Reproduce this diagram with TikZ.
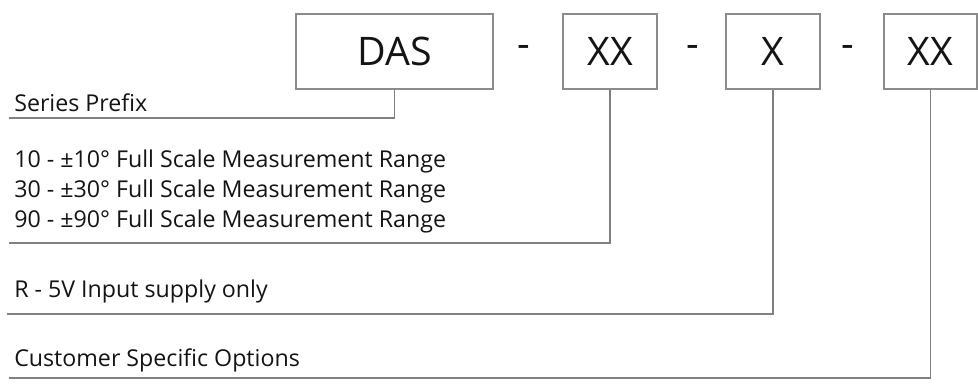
\documentclass[tikz,border=0pt]{standalone}
\usepackage{fontspec}
\setmainfont{Open Sans}
\definecolor{linegray}{RGB}{128,128,128}
\definecolor{boxgray}{RGB}{140,140,140}
\definecolor{txt}{RGB}{20,20,20}
\tikzset{
  codebox/.style={draw=boxgray, line width=0.8pt, inner sep=0pt, minimum height=75*0.75pt, font=\fontsize{29.5}{32}\selectfont, text=txt},
  sep/.style={font=\fontsize{29.5}{32}\selectfont, text=txt, inner sep=0pt},
  lbl/.style={anchor=base west, inner sep=0pt, font=\fontsize{17.4}{20}\selectfont, text=txt},
  conn/.style={draw=linegray, line width=1.2pt}
}
\begin{document}
\begin{tikzpicture}[x=0.75pt, y=-0.75pt]
\useasboundingbox (0,0) rectangle (978,383);
% code boxes
\node[codebox, minimum width=197*0.75pt] (das) at (394.5,51.5) {DAS};
\node[codebox, minimum width=94*0.75pt] (xxa) at (610,51.5) {XX};
\node[codebox, minimum width=94*0.75pt] (xb) at (773,51.5) {X};
\node[codebox, minimum width=93*0.75pt] (xxc) at (930.5,51.5) {XX};
% dashes
\node[sep] (d1) at (524,51.5) {-};
\node[sep] (d2) at (693,51.5) {-};
\node[sep] (d3) at (848,51.5) {-};
% labels
\node[lbl] (l1) at (14,111) {Series Prefix};
\node[lbl] (l2a) at (14,167) {10 - ±10° Full Scale Measurement Range};
\node[lbl] (l2b) at (14,197) {30 - ±30° Full Scale Measurement Range};
\node[lbl] (l2c) at (14,227) {90 - ±90° Full Scale Measurement Range};
\node[lbl] (l3) at (14,297) {R - 5V Input supply only};
\node[lbl] (l4) at (14,366) {Customer Specific Options};
% connector ends
\coordinate (e1) at (9,118);
\coordinate (e2) at (9,243);
\coordinate (e3) at (7,314);
\coordinate (e4) at (9,378);
\draw[conn] (das.south) |- (e1);
\draw[conn] (xxa.south) |- (e2);
\draw[conn] (xb.south) |- (e3);
\draw[conn] (xxc.south) |- (e4);
\end{tikzpicture}
\end{document}
